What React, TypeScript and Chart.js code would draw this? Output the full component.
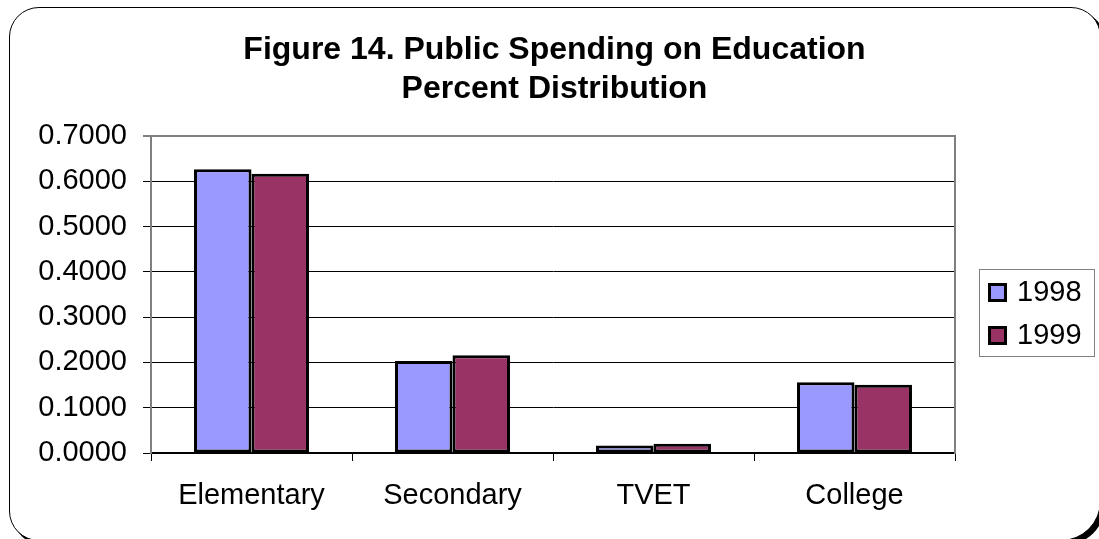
import React, { useEffect, useRef } from "react";
import { Chart, registerables } from "chart.js";

Chart.register(...registerables);

const titleLines = ["Figure 14. Public Spending on Education", "Percent Distribution"];
const categories = ["Elementary", "Secondary", "TVET", "College"];
const seriesLabels = ["1998", "1999"];
const values1998 = [0.6265, 0.203, 0.0165, 0.156];
const values1999 = [0.6168, 0.2157, 0.0205, 0.1508];
const seriesColors = ["#9999FF", "#993366"];
const yMin = 0;
const yMax = 0.7;
const yStep = 0.1;

const FONT = '"Liberation Sans", Arial, sans-serif';

const boxedLegend = {
  id: "boxedLegend",
  afterDraw(chart: any) {
    const { ctx, chartArea } = chart;
    const x = chartArea.right + 24;
    const y = chartArea.top + 133;
    const w = 115;
    const h = 87;
    ctx.save();
    ctx.strokeStyle = "#808080";
    ctx.lineWidth = 1;
    ctx.strokeRect(x + 0.5, y + 0.5, w, h);
    chart.data.datasets.forEach((ds: any, i: number) => {
      const cy = y + 23 + i * 43;
      ctx.fillStyle = ds.backgroundColor;
      ctx.fillRect(x + 9, cy - 9, 19, 19);
      ctx.lineWidth = 3;
      ctx.strokeStyle = "#000";
      ctx.strokeRect(x + 9 + 1.5, cy - 9 + 1.5, 16, 16);
      ctx.fillStyle = "#000";
      ctx.font = `29px ${FONT}`;
      ctx.textAlign = "left";
      ctx.textBaseline = "middle";
      ctx.fillText(ds.label, x + 38, cy + 1);
    });
    ctx.restore();
  },
};

export default function App() {
  const canvasRef = useRef<HTMLCanvasElement | null>(null);

  useEffect(() => {
    if (!canvasRef.current) return;
    const isTop = (c: any) => c.tick && Math.abs(c.tick.value - yMax) < 1e-6;
    const chart = new Chart(canvasRef.current, {
      type: "bar",
      data: {
        labels: categories,
        datasets: [
          {
            label: seriesLabels[0],
            data: values1998,
            backgroundColor: seriesColors[0],
            borderColor: "#000",
            borderWidth: 3,
            borderSkipped: false,
            categoryPercentage: 0.572,
            barPercentage: 1,
          },
          {
            label: seriesLabels[1],
            data: values1999,
            backgroundColor: seriesColors[1],
            borderColor: "#000",
            borderWidth: 3,
            borderSkipped: false,
            categoryPercentage: 0.572,
            barPercentage: 1,
          },
        ],
      },
      options: {
        responsive: false,
        animation: false,
        layout: { padding: { left: 10, right: 0, top: 0, bottom: 0 } },
        plugins: {
          legend: { display: false },
          tooltip: { enabled: false },
          title: {
            display: true,
            text: titleLines,
            color: "#000",
            font: { family: FONT, size: 32, weight: "bold", lineHeight: "39.5px" },
            padding: { top: 30, bottom: 27 },
          },
        },
        scales: {
          x: {
            grid: {
              display: true,
              drawOnChartArea: false,
              drawTicks: true,
              tickLength: 8,
              color: "#000",
              lineWidth: 1,
            },
            border: { display: true, color: "#000", width: 1.5 },
            ticks: {
              color: "#000",
              padding: 18,
              font: { family: FONT, size: 29 },
              maxRotation: 0,
            },
            afterFit(scale: any) {
              scale.height = 86;
            },
          },
          y: {
            min: yMin,
            max: yMax,
            grid: {
              color: (c: any) => (isTop(c) ? "#808080" : "#000"),
              lineWidth: (c: any) => (isTop(c) ? 2 : 1),
              tickLength: 8,
            },
            border: { display: true, color: "#808080", width: 2 },
            ticks: {
              stepSize: yStep,
              color: "#000",
              padding: 16,
              font: { family: FONT, size: 29 },
              callback: (v: any) => Number(v).toFixed(4),
            },
            afterFit(scale: any) {
              scale.width = 141;
            },
          },
          yRight: {
            position: "right",
            min: yMin,
            max: yMax,
            grid: { display: false, drawOnChartArea: false, drawTicks: false },
            border: { display: true, color: "#808080", width: 2 },
            ticks: { display: false },
            afterFit(scale: any) {
              scale.width = 144;
            },
          },
        },
      },
      plugins: [boxedLegend],
    });
    return () => chart.destroy();
  }, []);

  return (
    <div
      style={{
        position: "fixed",
        left: 0,
        top: 0,
        width: 1099,
        height: 539,
        overflow: "hidden",
        background: "#fff",
      }}
    >
      <div
        style={{
          position: "absolute",
          left: 9,
          top: 7,
          width: 1092,
          height: 534,
          boxSizing: "border-box",
          border: "1.5px solid #000",
          borderRadius: "30px 30px 40px 30px",
          boxShadow: "4px 4px 0 #000",
          background: "#fff",
        }}
      />
      <canvas
        ref={canvasRef}
        width={1099}
        height={539}
        style={{ position: "absolute", left: 0, top: 0, display: "block" }}
      />
    </div>
  );
}
